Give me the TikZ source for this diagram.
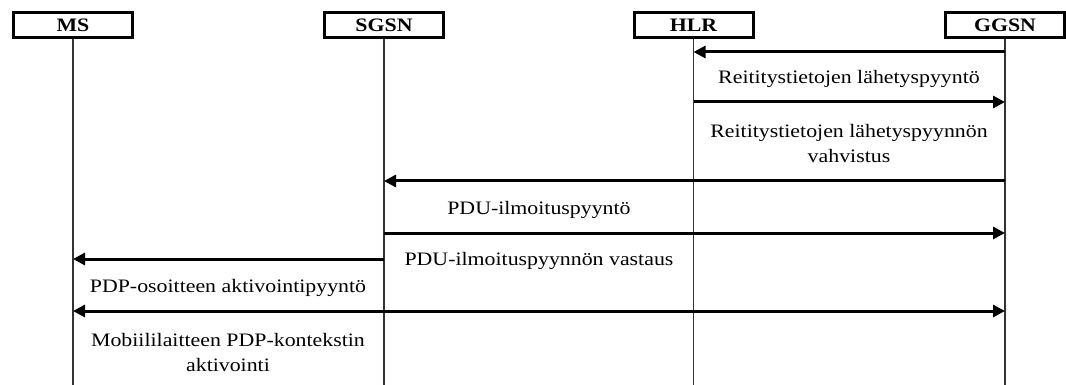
\documentclass[tikz,border=0pt]{standalone}
\usepackage{fontspec}
\setmainfont{Liberation Serif}[FakeStretch=1.15]
\usetikzlibrary{arrows.meta}
\tikzset{
  entity/.style={draw, line width=3pt, fill=white, minimum width=119pt, minimum height=25pt, inner sep=0pt, font=\bfseries\fontsize{19}{22}\selectfont},
  life/.style={line width=1.5pt, draw=black!80},
  msg/.style={line width=3pt, -{Triangle[length=12pt,width=12pt]}},
  dmsg/.style={line width=3pt, {Triangle[length=12pt,width=12pt]}-{Triangle[length=12pt,width=12pt]}},
  lbl/.style={align=center, inner sep=0pt, font=\fontsize{19}{25}\selectfont}
}
\begin{document}
\begin{tikzpicture}[x=1pt,y=-1pt]
\useasboundingbox (0,0) rectangle (1066,385);
% entities
\node[entity] (ms) at (73,25) {MS};
\node[entity] (sgsn) at (384,25) {SGSN};
\node[entity] (hlr) at (693.5,25) {HLR};
\node[entity] (ggsn) at (1005,25) {GGSN};
% lifelines
\coordinate (msend) at (ms |- 0,385);
\coordinate (sgsnend) at (sgsn |- 0,385);
\coordinate (hlrend) at (hlr |- 0,385);
\coordinate (ggsnend) at (ggsn |- 0,385);
\draw[life] (ms.south) -- (msend);
\draw[life] (sgsn.south) -- (sgsnend);
\draw[life] (hlr.south) -- (hlrend);
\draw[life] (ggsn.south) -- (ggsnend);
% messages
\draw[msg] (ggsn |- 0,52) -- (hlr |- 0,52);
\draw[msg] (hlr |- 0,102) -- (ggsn |- 0,102);
\draw[msg] (ggsn |- 0,181) -- (sgsn |- 0,181);
\draw[msg] (sgsn |- 0,233) -- (ggsn |- 0,233);
\draw[msg] (sgsn |- 0,259) -- (ms |- 0,259);
\draw[dmsg] (ms |- 0,311) -- (ggsn |- 0,311);
% labels
\node[lbl] (l1) at (849,79) {Reititystietojen lähetyspyyntö};
\node[lbl] (l2) at (849,144) {Reititystietojen lähetyspyynnön\\vahvistus};
\node[lbl] (l3) at (539,210) {PDU-ilmoituspyyntö};
\node[lbl] (l4) at (539,261) {PDU-ilmoituspyynnön vastaus};
\node[lbl] (l5) at (228,288) {PDP-osoitteen aktivointipyyntö};
\node[lbl] (l6) at (228,352) {Mobiililaitteen PDP-kontekstin\\aktivointi};
\end{tikzpicture}
\end{document}
